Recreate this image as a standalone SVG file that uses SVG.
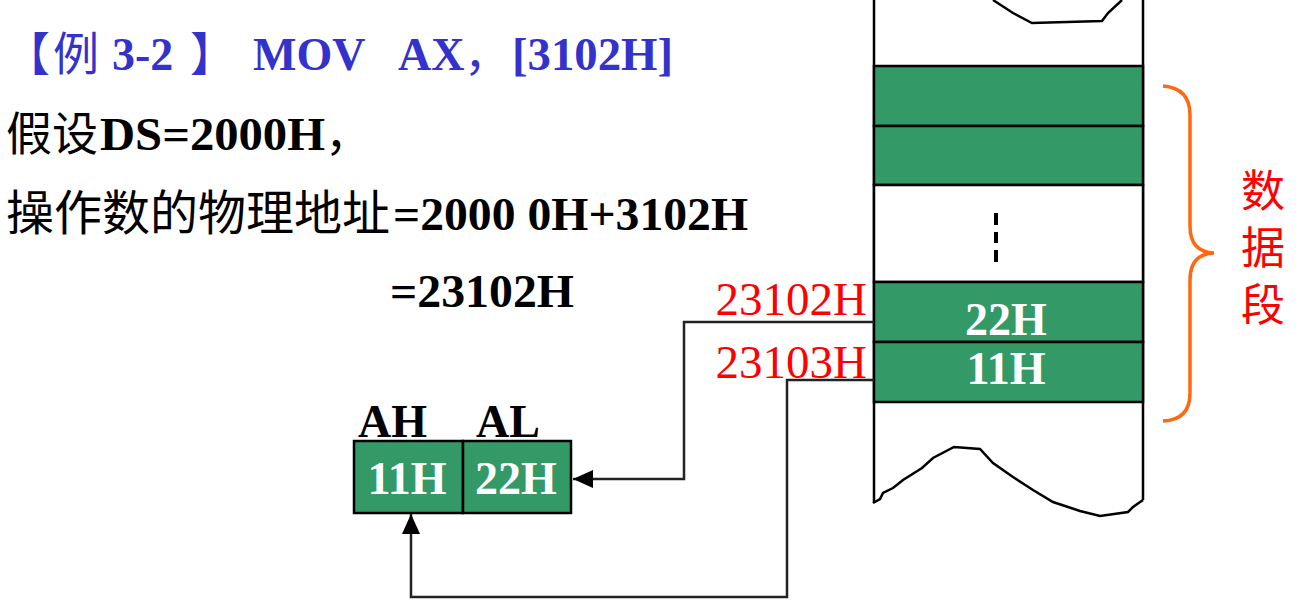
<svg xmlns="http://www.w3.org/2000/svg" width="1299" height="612" viewBox="0 0 1299 612">
<defs>
<style>
.t{font-family:"Liberation Serif","Noto Sans CJK SC",serif;font-size:46px}
.b{font-weight:bold}
.cjk{font-family:"Noto Sans CJK SC",sans-serif;font-weight:normal}
.cell{fill:#339966;stroke:#000;stroke-width:2.5}
.w{fill:#fff;font-family:"Liberation Serif",serif;font-size:46px;font-weight:bold;text-anchor:middle}
.addr{fill:#ff0000;font-family:"Liberation Serif",serif;font-size:47px;text-anchor:end}
.ln{fill:none;stroke:#000;stroke-width:2.5}
.conn{fill:none;stroke:#222;stroke-width:2.5}
</style>
<marker id="arr" viewBox="0 0 20 18" refX="20" refY="9" markerWidth="20" markerHeight="18" orient="auto" markerUnits="userSpaceOnUse">
<path d="M0,0 L20,9 L0,18 z" fill="#000"/>
</marker>
</defs>
<rect width="1299" height="612" fill="#fff"/>

<g id="title">
<text class="t b" y="70" fill="#3333cc"><tspan x="4" class="cjk">【</tspan><tspan x="53" class="cjk">例</tspan><tspan x="112">3-2</tspan><tspan x="190" class="cjk">】</tspan><tspan x="253">MOV</tspan><tspan x="398">AX</tspan><tspan x="464" class="cjk">，</tspan><tspan x="512" textLength="161" lengthAdjust="spacingAndGlyphs">[3102H]</tspan></text>
</g>

<g id="line2">
<text class="t b" y="150" fill="#000"><tspan x="6" class="cjk">假设</tspan><tspan x="100" textLength="225" lengthAdjust="spacingAndGlyphs">DS=2000H</tspan><tspan x="325" class="cjk">，</tspan></text>
</g>
<g id="line3">
<text class="t b" y="230" fill="#000"><tspan x="6" class="cjk" font-size="48">操作数的物理地址</tspan><tspan x="393" textLength="355" lengthAdjust="spacingAndGlyphs">=2000 0H+3102H</tspan></text>
</g>
<g id="line4">
<text class="t b" x="390" y="307" fill="#000" textLength="184" lengthAdjust="spacingAndGlyphs">=23102H</text>
</g>

<g id="memory">
<path class="ln" d="M874,0 V503"/>
<path class="ln" d="M1143,0 V500"/>
<path class="ln" d="M993,0 L1013,13 L1032,23 L1102,21 L1108,13 L1122,0"/>
<rect class="cell" x="874" y="66" width="269" height="60"/>
<rect class="cell" x="874" y="126" width="269" height="59"/>
<rect x="874" y="185" width="269" height="97" fill="#fff" stroke="#000" stroke-width="2.5"/>
<path d="M996,213 V225 M996,232 V243 M996,250 V262" stroke="#000" stroke-width="4"/>
<rect class="cell" x="874" y="282" width="269" height="60"/>
<rect class="cell" x="874" y="342" width="269" height="60"/>
<path class="ln" d="M873,503 L880,499 L883,493 L893,488 L903,480 L922,468 L933,458 L954,447 L980,449 L993,463 L1013,477 L1033,490 L1053,502 L1080,511 L1100,516 L1128,512 L1133,507 L1143,500"/>
</g>
<g id="cell-23102H">
<text class="w" x="1006" y="335">22H</text>
<text class="addr" x="867" y="315">23102H</text>
</g>
<g id="cell-23103H">
<text class="w" x="1006" y="384">11H</text>
<text class="addr" x="867" y="378">23103H</text>
</g>

<g id="brace">
<path d="M1163,86 Q1190,88 1190,115 V226 Q1190,252 1214,253 Q1190,254 1190,280 V393 Q1190,420 1163,421" fill="none" stroke="#ff6a10" stroke-width="3.5"/>
<text x="1263" y="168" fill="#ff0000" font-family="Noto Sans CJK SC,sans-serif" font-size="44" writing-mode="vertical-rl" letter-spacing="13">数据段</text>
</g>

<g id="register">
<rect class="cell" x="354" y="441" width="109" height="72"/>
<rect class="cell" x="463" y="441" width="108" height="72"/>
<text class="t b" x="358" y="437" fill="#000">AH</text>
<text class="t b" x="476" y="437" fill="#000">AL</text>
<text class="w" x="407" y="494">11H</text>
<text class="w" x="516" y="494">22H</text>
</g>

<g id="connectors">
<path class="conn" d="M874,322 H684 V479 H573" marker-end="url(#arr)"/>
<path class="conn" d="M874,380 H787 V597 H411 V514" marker-end="url(#arr)"/>
</g>
</svg>
